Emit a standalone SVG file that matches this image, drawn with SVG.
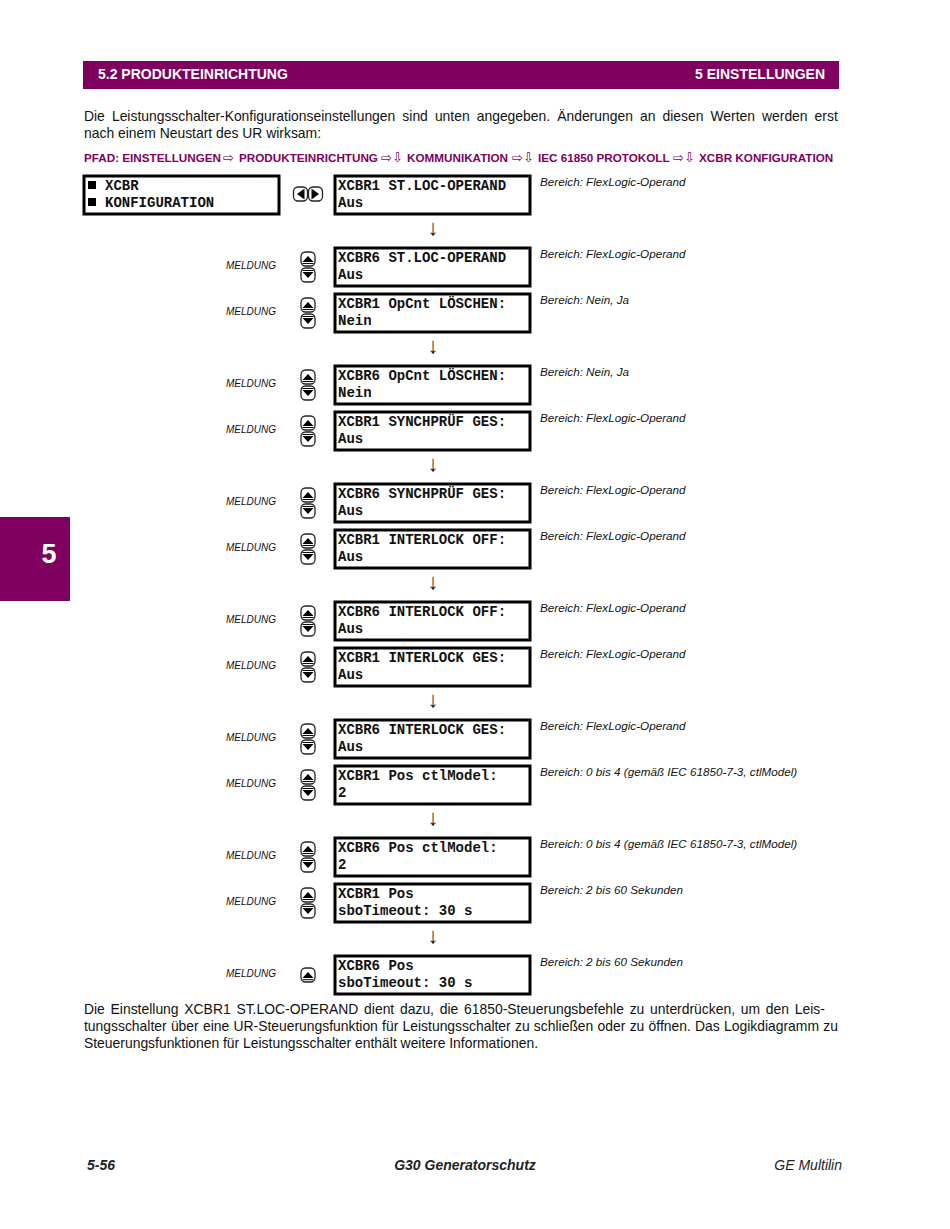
<svg xmlns="http://www.w3.org/2000/svg" width="950" height="1229" viewBox="0 0 950 1229">
<style>
text{font-family:"Liberation Sans",Arial,sans-serif}
.hd{font-size:14px;font-weight:bold;fill:#fff}
.body{font-size:13.9px;fill:#111}
.path{font-size:11.7px;font-weight:bold;fill:#800060}
.arr{font-family:"DejaVu Sans",sans-serif;font-size:13px;font-weight:normal;fill:#800060}
.lcd{fill:#fff;stroke:#000;stroke-width:3}
.m{font-family:"Liberation Mono",monospace;font-size:14px;font-weight:bold;fill:#111}
.msg{font-size:10px;font-style:italic;fill:#111}
.rng{font-size:11.7px;font-style:italic;fill:#111}
.dn{font-size:22px;fill:#222}
.foot{font-size:14px;font-style:italic;fill:#222}
.bf{font-weight:bold}
.btn{fill:#fff;stroke:#222;stroke-width:1.3}
</style>
<defs>
<g id="updown">
<rect class="btn" x="-7" y="-15" width="14" height="14" rx="4.5"/>
<rect class="btn" x="-7" y="1" width="14" height="14" rx="4.5"/>
<path d="M-5.5,-5 L0,-11 L5.5,-5Z M-5.5,5 L5.5,5 L0,11Z" fill="#000"/>
<path d="M-5.5,-3.500H5.500M-5.500,3.500H5.500" stroke="#000" stroke-width="1"/>
</g>
<g id="up">
<rect class="btn" x="-7" y="-7" width="14" height="14" rx="4.5"/>
<path d="M-5.5,3 L0,-3 L5.5,3Z" fill="#000"/>
<path d="M-5.5,4.700H5.500" stroke="#000" stroke-width="1"/>
</g>
</defs>
<g id="page-header">
<rect x="83" y="61" width="756" height="28" fill="#800060"/>
<text class="hd" x="98" y="79">5.2 PRODUKTEINRICHTUNG</text>
<text class="hd" x="825" y="79" text-anchor="end">5 EINSTELLUNGEN</text>
</g>
<g id="intro">
<text class="body" x="84" y="120.500" word-spacing="3.2">Die Leistungsschalter-Konfigurationseinstellungen sind unten angegeben. Änderungen an diesen Werten werden erst</text>
<text class="body" x="84" y="138">nach einem Neustart des UR wirksam:</text>
</g>
<g id="path-line">
<text class="path" x="84" y="162">PFAD: EINSTELLUNGEN</text><text class="arr" x="223" y="162">⇨</text>
<text class="path" x="239" y="162">PRODUKTEINRICHTUNG</text><text class="arr" x="381" y="162">⇨⇩</text>
<text class="path" x="407" y="162">KOMMUNIKATION</text><text class="arr" x="512" y="162">⇨⇩</text>
<text class="path" x="538" y="162">IEC 61850 PROTOKOLL</text><text class="arr" x="673" y="162">⇨⇩</text>
<text class="path" x="699" y="162">XCBR KONFIGURATION</text>
</g>
<g id="side-tab">
<rect x="0" y="517" width="70" height="84" fill="#800060"/>
<text x="49" y="563" font-size="27" font-weight="bold" fill="#fff" text-anchor="middle">5</text>
</g>
<g id="connectors">
<text class="dn" x="433" y="235" text-anchor="middle">↓</text>
<text class="dn" x="433" y="353" text-anchor="middle">↓</text>
<text class="dn" x="433" y="471" text-anchor="middle">↓</text>
<text class="dn" x="433" y="589" text-anchor="middle">↓</text>
<text class="dn" x="433" y="707" text-anchor="middle">↓</text>
<text class="dn" x="433" y="825" text-anchor="middle">↓</text>
<text class="dn" x="433" y="943" text-anchor="middle">↓</text>
</g>
<g id="node-xcbr-menu">
<rect class="lcd" x="84" y="176" width="195" height="38"/>
<rect x="88" y="181" width="8" height="8" fill="#000"/><rect x="88" y="198" width="8" height="8" fill="#000"/>
<text class="m" x="105" y="190">XCBR</text><text class="m" x="105" y="207">KONFIGURATION</text>
</g>
<g id="btn-left-right">
<rect class="btn" x="293.500" y="187" width="14" height="14" rx="4.500"/>
<rect class="btn" x="308.500" y="187" width="14" height="14" rx="4.500"/>
<path d="M304.500,188.500V199.500L297,194Z M311.500,188.500V199.500L319,194Z" fill="#000"/>
</g>
<g id="node-1"><rect class="lcd" x="335" y="176" width="195" height="38"/><text class="m" x="338" y="190">XCBR1 ST.LOC-OPERAND</text><text class="m" x="338" y="207">Aus</text><text class="rng" x="540" y="186">Bereich: FlexLogic-Operand</text></g>
<g id="node-2"><text class="msg" x="226" y="269">MELDUNG</text><use href="#updown" x="308" y="267"/><rect class="lcd" x="335" y="248" width="195" height="38"/><text class="m" x="338" y="262">XCBR6 ST.LOC-OPERAND</text><text class="m" x="338" y="279">Aus</text><text class="rng" x="540" y="258">Bereich: FlexLogic-Operand</text></g>
<g id="node-3"><text class="msg" x="226" y="315">MELDUNG</text><use href="#updown" x="308" y="313"/><rect class="lcd" x="335" y="294" width="195" height="38"/><text class="m" x="338" y="308">XCBR1 OpCnt LÖSCHEN:</text><text class="m" x="338" y="325">Nein</text><text class="rng" x="540" y="304">Bereich: Nein, Ja</text></g>
<g id="node-4"><text class="msg" x="226" y="387">MELDUNG</text><use href="#updown" x="308" y="385"/><rect class="lcd" x="335" y="366" width="195" height="38"/><text class="m" x="338" y="380">XCBR6 OpCnt LÖSCHEN:</text><text class="m" x="338" y="397">Nein</text><text class="rng" x="540" y="376">Bereich: Nein, Ja</text></g>
<g id="node-5"><text class="msg" x="226" y="433">MELDUNG</text><use href="#updown" x="308" y="431"/><rect class="lcd" x="335" y="412" width="195" height="38"/><text class="m" x="338" y="426">XCBR1 SYNCHPRÜF GES:</text><text class="m" x="338" y="443">Aus</text><text class="rng" x="540" y="422">Bereich: FlexLogic-Operand</text></g>
<g id="node-6"><text class="msg" x="226" y="505">MELDUNG</text><use href="#updown" x="308" y="503"/><rect class="lcd" x="335" y="484" width="195" height="38"/><text class="m" x="338" y="498">XCBR6 SYNCHPRÜF GES:</text><text class="m" x="338" y="515">Aus</text><text class="rng" x="540" y="494">Bereich: FlexLogic-Operand</text></g>
<g id="node-7"><text class="msg" x="226" y="551">MELDUNG</text><use href="#updown" x="308" y="549"/><rect class="lcd" x="335" y="530" width="195" height="38"/><text class="m" x="338" y="544">XCBR1 INTERLOCK OFF:</text><text class="m" x="338" y="561">Aus</text><text class="rng" x="540" y="540">Bereich: FlexLogic-Operand</text></g>
<g id="node-8"><text class="msg" x="226" y="623">MELDUNG</text><use href="#updown" x="308" y="621"/><rect class="lcd" x="335" y="602" width="195" height="38"/><text class="m" x="338" y="616">XCBR6 INTERLOCK OFF:</text><text class="m" x="338" y="633">Aus</text><text class="rng" x="540" y="612">Bereich: FlexLogic-Operand</text></g>
<g id="node-9"><text class="msg" x="226" y="669">MELDUNG</text><use href="#updown" x="308" y="667"/><rect class="lcd" x="335" y="648" width="195" height="38"/><text class="m" x="338" y="662">XCBR1 INTERLOCK GES:</text><text class="m" x="338" y="679">Aus</text><text class="rng" x="540" y="658">Bereich: FlexLogic-Operand</text></g>
<g id="node-10"><text class="msg" x="226" y="741">MELDUNG</text><use href="#updown" x="308" y="739"/><rect class="lcd" x="335" y="720" width="195" height="38"/><text class="m" x="338" y="734">XCBR6 INTERLOCK GES:</text><text class="m" x="338" y="751">Aus</text><text class="rng" x="540" y="730">Bereich: FlexLogic-Operand</text></g>
<g id="node-11"><text class="msg" x="226" y="787">MELDUNG</text><use href="#updown" x="308" y="785"/><rect class="lcd" x="335" y="766" width="195" height="38"/><text class="m" x="338" y="780">XCBR1 Pos ctlModel:</text><text class="m" x="338" y="797">2</text><text class="rng" x="540" y="776">Bereich: 0 bis 4 (gemäß IEC 61850-7-3, ctlModel)</text></g>
<g id="node-12"><text class="msg" x="226" y="859">MELDUNG</text><use href="#updown" x="308" y="857"/><rect class="lcd" x="335" y="838" width="195" height="38"/><text class="m" x="338" y="852">XCBR6 Pos ctlModel:</text><text class="m" x="338" y="869">2</text><text class="rng" x="540" y="848">Bereich: 0 bis 4 (gemäß IEC 61850-7-3, ctlModel)</text></g>
<g id="node-13"><text class="msg" x="226" y="905">MELDUNG</text><use href="#updown" x="308" y="903"/><rect class="lcd" x="335" y="884" width="195" height="38"/><text class="m" x="338" y="898">XCBR1 Pos</text><text class="m" x="338" y="915">sboTimeout: 30 s</text><text class="rng" x="540" y="894">Bereich: 2 bis 60 Sekunden</text></g>
<g id="node-14"><text class="msg" x="226" y="977">MELDUNG</text><use href="#up" x="308" y="975"/><rect class="lcd" x="335" y="956" width="195" height="38"/><text class="m" x="338" y="970">XCBR6 Pos</text><text class="m" x="338" y="987">sboTimeout: 30 s</text><text class="rng" x="540" y="966">Bereich: 2 bis 60 Sekunden</text></g>
<g id="outro">
<text class="body" x="84" y="1013.500" word-spacing="1.9">Die Einstellung XCBR1 ST.LOC-OPERAND dient dazu, die 61850-Steuerungsbefehle zu unterdrücken, um den Leis-</text>
<text class="body" x="84" y="1031" word-spacing="0.4">tungsschalter über eine UR-Steuerungsfunktion für Leistungsschalter zu schließen oder zu öffnen. Das Logikdiagramm zu</text>
<text class="body" x="84" y="1048">Steuerungsfunktionen für Leistungsschalter enthält weitere Informationen.</text>
</g>
<g id="footer">
<text class="foot bf" x="87" y="1170">5-56</text>
<text class="foot bf" x="465" y="1170" text-anchor="middle">G30 Generatorschutz</text>
<text class="foot" x="842" y="1170" text-anchor="end">GE Multilin</text>
</g>
</svg>
